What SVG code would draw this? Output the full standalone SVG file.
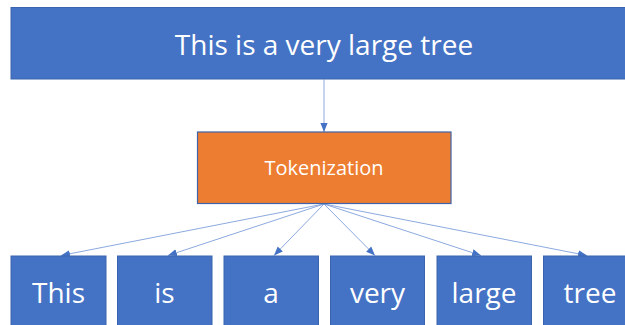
<svg xmlns="http://www.w3.org/2000/svg" width="625" height="325" viewBox="0 0 625 325">
  <style>
    .blue { fill: #4472C4; stroke: #3A64AE; stroke-width: 1; }
    .orange { fill: #ED7D31; stroke: #3F63A6; stroke-width: 1.2; }
    .lbl { fill: #FFFFFF; font-family: "Open Sans", "Noto Sans", "Liberation Sans", sans-serif; text-anchor: middle; }
    .big { font-size: 28px; }
    .mid { font-size: 20px; }
    .edge { stroke: #7F9FDA; stroke-width: 0.9; fill: none; marker-end: url(#arrow); }
  </style>
  <defs>
    <marker id="arrow" viewBox="0 0 10 10" refX="10" refY="5" markerWidth="9" markerHeight="9" markerUnits="userSpaceOnUse" orient="auto">
      <path d="M0,1 L10,5 L0,9 Z" fill="#4472C4"/>
    </marker>
  </defs>
  <rect width="625" height="325" fill="#FFFFFF"/>

  <g id="connectors">
    <line class="edge" x1="324" y1="79.5" x2="324" y2="132"/>
    <line class="edge" x1="324" y1="204" x2="61" y2="255.5"/>
    <line class="edge" x1="324" y1="204" x2="168" y2="255.5"/>
    <line class="edge" x1="324" y1="204" x2="274" y2="255.5"/>
    <line class="edge" x1="324" y1="204" x2="375" y2="255.5"/>
    <line class="edge" x1="324" y1="204" x2="481" y2="255.5"/>
    <line class="edge" x1="324" y1="204" x2="587" y2="255.5"/>
  </g>

  <g id="sentence">
    <rect class="blue" x="11" y="7.5" width="630" height="71.5"/>
    <text class="lbl big" x="324" y="54.5">This is a very large tree</text>
  </g>

  <g id="tokenization">
    <rect class="orange" x="197.5" y="132" width="253.5" height="71.5"/>
    <text class="lbl mid" x="324" y="175">Tokenization</text>
  </g>

  <g id="token-this">
    <rect class="blue" x="11" y="256" width="95" height="80"/>
    <text class="lbl big" x="58.5" y="303">This</text>
  </g>
  <g id="token-is">
    <rect class="blue" x="117.5" y="256" width="94.5" height="80"/>
    <text class="lbl big" x="164.5" y="303">is</text>
  </g>
  <g id="token-a">
    <rect class="blue" x="224" y="256" width="94.5" height="80"/>
    <text class="lbl big" x="271" y="303">a</text>
  </g>
  <g id="token-very">
    <rect class="blue" x="330.5" y="256" width="94" height="80"/>
    <text class="lbl big" x="377.5" y="303">very</text>
  </g>
  <g id="token-large">
    <rect class="blue" x="437" y="256" width="94.5" height="80"/>
    <text class="lbl big" x="484" y="303">large</text>
  </g>
  <g id="token-tree">
    <rect class="blue" x="543.5" y="256" width="94.5" height="80"/>
    <text class="lbl big" x="590" y="303">tree</text>
  </g>
</svg>
